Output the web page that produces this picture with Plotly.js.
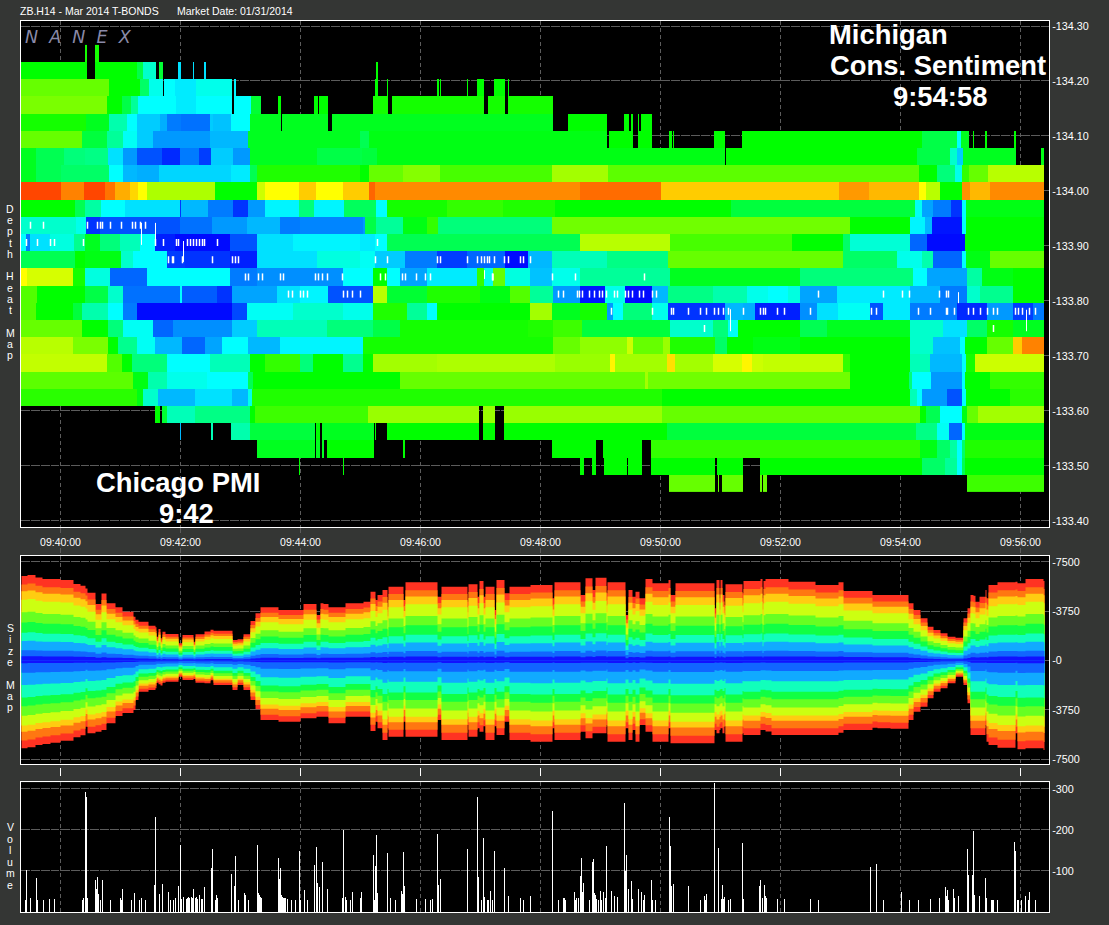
<!DOCTYPE html>
<html><head><meta charset="utf-8">
<script src="https://cdn.plot.ly/plotly-3.0.1.min.js"></script>
<style>html,body{margin:0;padding:0;background:#343634;overflow:hidden}</style>
</head><body><div id="chart" style="width:1109px;height:925px"></div>
<script>
const n = null;
// Time is seconds after 09:40:00. Each heat row is a list of [run end second, level 0-100].
const firstSecond = -39, lastSecond = 984;
const rowP8 = [[25,n],[27,52],[35,n],[39,52],[984,n]];
const rowP7 = [[27,50],[35,n],[77,50],[83,43],[96,30],[99,n],[103,45],[118,n],[121,22],[133,n],[134,22],[144,n],[146,22],[316,n],[318,50],[984,n]];
const rowP6 = [[49,60],[80,50],[89,40],[103,27],[104,n],[115,25],[136,23],[172,27],[174,n],[176,24],[315,n],[318,50],[327,n],[328,50],[377,n],[379,50],[380,n],[381,50],[407,n],[408,50],[417,n],[424,50],[434,n],[445,50],[448,n],[449,50],[984,n]];
const rowP5 = [[47,62],[62,50],[71,43],[78,35],[116,25],[136,23],[172,25],[174,n],[191,25],[201,45],[218,n],[221,50],[254,n],[258,50],[259,n],[268,50],[313,n],[328,52],[332,n],[424,52],[428,n],[445,52],[448,n],[493,52],[984,n]];
const rowP4 = [[26,52],[49,47],[67,33],[77,25],[100,20],[107,17],[121,12],[150,11],[153,20],[171,19],[190,25],[221,47],[222,n],[268,47],[272,n],[493,47],[508,n],[547,50],[564,n],[569,50],[571,n],[573,50],[578,n],[579,50],[581,n],[592,50],[984,n]];
const rowP3 = [[22,60],[47,44],[63,35],[77,26],[93,20],[150,15],[188,18],[300,47],[309,42],[547,48],[549,n],[573,50],[578,n],[592,50],[609,n],[612,50],[613,n],[614,50],[654,n],[665,50],[682,n],[862,50],[897,43],[901,25],[909,47],[913,n],[914,50],[925,n],[927,50],[954,n],[956,50],[984,n]];
const rowP2 = [[-24,47],[4,42],[25,38],[48,37],[63,22],[77,15],[102,8],[120,4],[139,12],[151,6],[173,20],[190,15],[257,47],[302,43],[317,44],[665,48],[666,n],[857,50],[890,43],[897,30],[903,20],[956,47],[981,n],[984,48]];
const rowP1 = [[-24,47],[1,42],[49,40],[63,25],[77,18],[99,17],[171,21],[190,23],[197,42],[300,53],[309,50],[343,60],[380,63],[492,57],[548,66],[859,59],[877,50],[895,38],[902,27],[909,55],[928,60],[984,68]];
const row0 = [[1,96],[24,88],[45,96],[55,90],[70,83],[78,79],[87,75],[155,67],[197,50],[205,70],[239,75],[256,80],[283,75],[309,80],[315,92],[520,87],[601,91],[779,80],[809,85],[859,82],[866,75],[880,68],[902,50],[910,86],[930,82],[984,87]];
const rowM1 = [[15,50],[25,42],[41,34],[65,25],[120,22],[121,5],[148,18],[173,12],[188,5],[205,15],[239,24],[254,38],[284,24],[316,41],[327,25],[387,52],[443,55],[495,53],[671,50],[855,44],[862,26],[873,16],[891,12],[902,5],[906,25],[984,48]];
const rowM2 = [[16,30],[26,27],[40,5],[120,8],[152,11],[187,15],[220,18],[240,12],[303,13],[305,15],[316,43],[343,35],[367,48],[378,55],[492,38],[790,61],[850,50],[865,24],[872,18],[902,2],[906,25],[984,50]];
const rowM3 = [[-34,25],[-30,12],[-10,22],[14,28],[25,36],[40,47],[60,38],[80,32],[95,25],[115,3],[170,1],[197,8],[233,22],[300,24],[315,23],[327,25],[520,42],[610,68],[732,57],[783,50],[790,40],[850,29],[867,10],[905,1],[984,50]];
const rowM4 = [[15,42],[25,50],[61,48],[73,30],[107,25],[125,6],[170,5],[197,3],[257,22],[300,28],[315,26],[345,20],[377,12],[407,6],[445,10],[468,1],[492,18],[547,32],[608,37],[783,60],[837,40],[862,27],[873,33],[902,10],[906,25],[930,48],[984,60]];
const rowM5 = [[-33,75],[13,71],[25,52],[50,28],[87,10],[170,25],[197,12],[283,14],[313,25],[327,50],[340,25],[367,16],[417,23],[424,55],[433,27],[445,60],[470,28],[492,19],[520,27],[610,35],[740,47],[853,38],[867,25],[907,16],[922,34],[953,48],[984,50]];
const rowM6 = [[-23,58],[25,50],[48,43],[63,30],[120,11],[122,25],[157,9],[172,5],[217,16],[240,22],[268,24],[313,8],[327,68],[367,45],[420,53],[450,48],[470,58],[493,35],[520,15],[545,2],[565,27],[592,1],[608,18],[653,37],[687,33],[708,27],[728,25],[740,28],[777,16],[850,23],[880,18],[907,12],[920,30],[953,36],[984,50]];
const rowM7 = [[-24,58],[13,50],[22,44],[48,33],[63,25],[77,12],[172,1],[187,7],[233,26],[283,30],[313,27],[347,53],[367,35],[377,25],[470,50],[492,66],[520,47],[547,52],[553,15],[563,25],[592,38],[608,27],[665,5],[683,18],[695,17],[740,3],[757,14],[778,22],[810,26],[823,8],[850,23],[897,12],[927,4],[953,15],[973,6],[984,12]];
const rowM8 = [[22,60],[48,50],[63,38],[93,26],[113,10],[172,14],[197,20],[267,32],[313,38],[340,43],[468,52],[493,53],[522,56],[610,44],[653,30],[668,38],[678,26],[740,50],[767,42],[850,47],[883,30],[907,22],[927,40],[953,52],[984,47]];
const rowM9 = [[13,68],[48,62],[58,50],[77,36],[95,26],[122,18],[145,10],[162,16],[188,25],[220,18],[303,24],[493,52],[520,60],[567,64],[573,70],[603,60],[610,65],[655,53],[667,40],[693,50],[740,48],[850,50],[873,30],[900,19],[905,25],[927,50],[953,60],[962,80],[984,88]];
const rowM10 = [[47,69],[62,58],[72,50],[107,38],[150,25],[190,32],[205,50],[240,55],[253,38],[283,50],[303,36],[313,50],[377,66],[495,67],[550,65],[555,76],[607,66],[615,78],[653,66],[682,71],[692,76],[703,70],[783,69],[790,55],[850,50],[870,32],[902,18],[906,25],[915,52],[984,70]];
const rowM11 = [[73,59],[88,48],[107,33],[147,27],[188,25],[193,42],[340,50],[585,60],[588,66],[790,61],[849,50],[852,38],[871,25],[902,15],[905,25],[930,50],[984,55]];
const rowM12 = [[77,54],[83,48],[98,30],[135,18],[172,22],[188,18],[192,27],[602,53],[850,50],[857,32],[862,25],[887,15],[902,8],[906,25],[950,50],[984,54]];
const rowM13 = [[95,n],[100,50],[102,n],[107,45],[135,32],[190,37],[195,50],[308,56],[419,65],[423,n],[435,65],[444,n],[602,65],[860,60],[866,50],[880,42],[902,25],[907,48],[918,60],[984,66]];
const rowM14 = [[120,n],[121,18],[151,n],[153,32],[171,n],[190,33],[255,44],[256,n],[260,50],[262,n],[314,47],[315,n],[316,50],[327,n],[419,50],[423,n],[435,50],[444,n],[607,50],[856,44],[877,37],[889,26],[902,10],[905,25],[984,48]];
const rowM15 = [[197,n],[255,47],[256,n],[260,47],[262,n],[264,47],[267,n],[314,50],[343,n],[345,50],[492,n],[536,50],[543,n],[582,50],[591,n],[860,55],[877,48],[890,40],[897,34],[902,25],[905,40],[984,53]];
const rowM16 = [[239,n],[240,50],[283,n],[284,50],[520,n],[524,50],[532,n],[536,50],[544,n],[567,50],[568,n],[582,50],[591,n],[655,50],[657,n],[683,50],[700,n],[862,50],[885,40],[897,35],[902,25],[905,42],[984,50]];
const rowM17 = [[609,n],[655,60],[658,n],[659,60],[662,n],[683,60],[700,n],[702,60],[703,n],[707,60],[907,n],[984,56]];

const heatRows = [rowM17,rowM16,rowM15,rowM14,rowM13,rowM12,rowM11,rowM10,rowM9,rowM8,rowM7,rowM6,rowM5,rowM4,rowM3,rowM2,rowM1,row0,rowP1,rowP2,rowP3,rowP4,rowP5,rowP6,rowP7,rowP8];
const priceRows = [133.46875,133.5,133.53125,133.5625,133.59375,133.625,133.65625,133.6875,133.71875,133.75,133.78125,133.8125,133.84375,133.875,133.90625,133.9375,133.96875,134,134.03125,134.0625,134.09375,134.125,134.15625,134.1875,134.21875,134.25];

// White resting-order ticks per price row (seconds)
const whiteAt13393 = [-30,-17,27,37,40,42,50,61,72,75,80,85];
const whiteAt13391 = [-34,-23,-10,-6,23,95,103,116,118,127,130,133,136,139,142,144,157,317];
const whiteAt13387 = [108,112,113,122,152,172,175,178,315,327,377,380,407,417,421,424,427,429,434,444,448,460,463,470];
const whiteAt13384 = [185,188,198,202,220,223,255,258,262,267,282,320,325,342,345,356,365,370,432,432.5,492,515,584];
const whiteAt13381 = [228,232,240,243,247,283,287,292,300,498,503,517,519,522,529,534,539,542,546,554,557,565,568,572,579,583,592,596,758,823,842,849,879,886,888];
const whiteAt13378 = [551,592,611,613,628,640,646,654,658,663,668,683,700,703,705,717,724,750,811,816,858,870,886,887,894,908,913,920,927,933,937,955,958,962,969,975];
const whiteAt13375 = [644,933];
// Tall thin white wicks: second, low price, high price
const wickT = [81,81,n,95,95,n,123,123,n,424,424,n,670,670,n,898,898,n,966,966];
const wickP = [133.902,133.942,n,133.907,133.942,n,133.871,133.909,n,133.84,133.856,n,133.745,133.785,n,133.796,133.816,n,133.745,133.784];

// Size map: envelope per step
const sizeT = [-39,-33,-25,-18,-10,0,13,20,25,27,35,41,46,55,62,73,75,78,88,95,96,98,100,102,105,118,122,133,135,144,150,153,172,177,183,190,195,200,218,240,243,256,260,263,268,285,303,310,315,317,322,327,328,343,345,377,381,407,408,417,419,423,425,434,436,444,449,470,492,494,520,525,532,535,546,547,565,568,572,575,579,585,592,608,610,615,654,656,659,660,662,664,665,682,683,700,702,703,705,711,728,755,778,783,812,817,830,848,853,860,867,873,880,887,895,903,907,910,913,915,919,925,926,928,937,955,957,965,983,984];
const sizeTop = [6430,6506,6328,6200,6200,6125,5820,5694,5490,5161,4300,5110,4350,4045,3715,3335,3100,2950,2650,2523,1800,2400,1700,2193,2016,1305,1940,1432,2000,2200,2350,2269,1559,1610,2000,3000,3588,4045,3842,3842,4300,3461,4350,4300,4045,4350,4477,5238,4604,4985,5365,4097,5619,4604,5949,4858,5619,4477,5797,4858,6050,4858,5619,3843,6126,5112,5619,5746,4731,5949,4985,6253,5365,6304,5112,5949,3462,5365,4858,5238,4731,6202,5873,6126,4985,5873,3970,6126,4731,6126,4985,4224,5797,5112,6050,6202,4731,6050,6202,6202,6000,5746,5949,5300,4985,4985,4985,4350,3843,3209,2575,2321,2067,1813,1737,3209,3970,4985,4934,4477,4858,5365,4731,5746,5949,6000,5873,6202,6050,6050];
const sizeBottom = [-6687,-6600,-6433,-6350,-6255,-6103,-5849,-5700,-5038,-5545,-5418,-5291,-4784,-4226,-4000,-3769,-3008,-2374,-2250,-2120,-1700,-1800,-1900,-1700,-1613,-1232,-1486,-1400,-1689,-1740,-1500,-1866,-2247,-1866,-2247,-3008,-3718,-4530,-4657,-4404,-4404,-4277,-4277,-4277,-4784,-4277,-4275,-5366,-4656,-5163,-6051,-5163,-5798,-4656,-5798,-4529,-6051,-4910,-5798,-5163,-5417,-5000,-6051,-5000,-5671,-4656,-6051,-6178,-5163,-6051,-5417,-5925,-5544,-5544,-4910,-6178,-5163,-6051,-5290,-6178,-4910,-5417,-6178,-5163,-6305,-6305,-5290,-5544,-5300,-5163,-5544,-5000,-6178,-5544,-5671,-5290,-5290,-5290,-5400,-5671,-5671,-5671,-5500,-5290,-5113,-5163,-5200,-4529,-3895,-3514,-2880,-2373,-2119,-1738,-1231,-1865,-3261,-5671,-5671,-5671,-5671,-4910,-6178,-6432,-6635,-5544,-6762,-6686,-6812,-6812];
const bandColors = ['#ff3322','#ff7711','#ffcc11','#ccff11','#66ff22','#11ff44','#11ffbb','#11aaff','#1166ff','#1111ff'];
const bandTopShare = [1,0.90,0.82,0.72,0.57,0.45,0.33,0.23,0.12,0.05];
const bandBottomShare = [1,0.91,0.81,0.74,0.63,0.52,0.42,0.28,0.14,0.03];

// Volume
const volumeT = [-35,-34,-30,-24,-23,-17,-11,-6,22,23,25,26,27,35,36,37,38,40,42,50,60,61,62,71,74,79,81,85,94,95,99,102,108,110,113,115,118,120,121,123,126,127,128,129,131,132,133,135,136,137,139,141,142,144,151,152,155,156,157,171,174,175,178,184,185,188,197,198,199,200,201,218,219,220,221,222,223,224,225,227,231,235,239,240,244,247,254,256,257,259,262,267,282,283,285,286,290,292,300,301,313,314,315,316,317,327,330,335,341,342,343,344,356,365,370,372,377,378,380,407,417,418,421,423,424,427,428,430,432,434,444,448,460,463,470,492,498,503,504,505,514,515,516,518,520,521,522,523,529,532,533,534,535,536,538,540,541,543,545,546,551,554,557,564,565,566,568,571,572,578,581,583,584,591,592,595,609,610,611,613,628,640,644,645,646,654,658,661,662,663,664,668,670,682,683,699,700,702,704,705,706,717,724,750,758,810,816,823,841,849,858,870,879,885,886,887,888,893,894,898,907,908,912,913,914,919,925,926,931,932,933,937,954,955,957,958,961,965,968,969,975];
const volumeV = [29,102,34,83,29,29,31,31,29,34,292,280,34,78,56,85,44,29,78,29,34,29,56,29,46,29,34,29,66,231,44,68,49,29,29,34,63,163,32,36,32,34,36,34,36,34,56,34,36,32,41,32,32,61,107,153,29,41,34,92,63,136,29,46,41,29,163,46,41,36,34,131,80,107,41,36,34,34,34,32,29,29,148,29,53,29,114,158,70,61,122,56,34,199,36,29,29,49,34,49,139,29,112,187,46,143,34,29,51,44,146,63,32,32,29,32,190,66,80,153,280,85,29,180,36,29,29,51,29,148,107,39,34,29,39,245,29,34,34,29,49,29,34,34,87,131,49,70,29,122,129,46,41,32,29,51,29,49,34,160,51,39,36,265,100,139,56,75,32,56,49,29,41,78,29,29,231,160,63,68,63,29,39,29,44,315,155,32,66,32,36,29,32,168,32,63,78,34,66,39,34,32,32,32,29,110,118,29,48,29,29,31,34,60,38,53,29,55,34,38,154,89,89,197,41,38,84,34,29,29,29,29,170,149,29,29,29,38,29,48,29];

// Axis labels
const timeTicks = [0,120,240,360,480,600,720,840,960];
const timeLabels = ['09:40:00','09:42:00','09:44:00','09:46:00','09:48:00','09:50:00','09:52:00','09:54:00','09:56:00'];
const priceTicks = [134.3,134.2,134.1,134,133.9,133.8,133.7,133.6,133.5,133.4];
const priceLabels = ['-134.30','-134.20','-134.10','-134.00','-133.90','-133.80','-133.70','-133.60','-133.50','-133.40'];
const sizeTicks = [7500,3750,0,-3750,-7500];
const sizeLabels = ['-7500','-3750','-0','-3750','-7500'];
const volumeTicks = [300,200,100];
const volumeLabels = ['-300','-200','-100'];
const sideLabels = ['Depth Heat Map','Size Map','Volume'];

// ---- build ----
const W = 1109, H = 925;
const fx = p => p / W, fy = p => 1 - p / H;
const FONT = '"Liberation Sans", Arial, sans-serif';
const seconds = []; for (let s = firstSecond; s < lastSecond; s++) seconds.push(s);
const expand = runs => { let r = 0; return seconds.map(s => { while (r < runs.length - 1 && s >= runs[r][0]) r++; return runs[r][1]; }); };

const traces = [{
  type:'heatmap', x:seconds, y:priceRows, z:heatRows.map(expand), zmin:0, zmax:100, zsmooth:false, showscale:false, hoverinfo:'skip',
  colorscale:[[0,'#0000ff'],[0.125,'#0080ff'],[0.25,'#00ffff'],[0.5,'#00ff00'],[0.75,'#ffff00'],[0.85,'#ff9900'],[1,'#ff2800']],
  xaxis:'x', yaxis:'y'
}];
const whites = [[133.9375,whiteAt13393],[133.90625,whiteAt13391],[133.875,whiteAt13387],[133.84375,whiteAt13384],[133.8125,whiteAt13381],[133.78125,whiteAt13378],[133.75,whiteAt13375]];
traces.push({type:'scatter',mode:'markers',xaxis:'x',yaxis:'y',hoverinfo:'skip',
  x:whites.flatMap(w=>w[1]), y:whites.flatMap(w=>w[1].map(()=>w[0])),
  marker:{symbol:'line-ns',size:5,color:'#fff',line:{color:'#fff',width:1.5}}});
traces.push({type:'scatter',mode:'lines',xaxis:'x',yaxis:'y',hoverinfo:'skip',x:wickT,y:wickP,line:{color:'#fff',width:1}});
bandColors.forEach((c,i)=>{
  traces.push({type:'scatter',mode:'lines',xaxis:'x2',yaxis:'y2',hoverinfo:'skip',x:sizeT,y:sizeTop.map(v=>v*bandTopShare[i]),fill:'tozeroy',fillcolor:c,line:{width:0,shape:'hv',color:c}});
  traces.push({type:'scatter',mode:'lines',xaxis:'x2',yaxis:'y2',hoverinfo:'skip',x:sizeT,y:sizeBottom.map(v=>v*bandBottomShare[i]),fill:'tozeroy',fillcolor:c,line:{width:0,shape:'hv',color:c}});
});
traces.push({type:'bar',x:volumeT,y:volumeV,width:1,xaxis:'x3',yaxis:'y3',hoverinfo:'skip',marker:{color:'#fff',line:{width:0}}});

const GRID = '#5c5c5c';
const xBase = {range:[-40,988.5],domain:[fx(20.5),fx(1049)],tickvals:timeTicks,ticktext:timeLabels,showline:true,mirror:true,linecolor:'#fff',linewidth:1,
  showgrid:true,gridcolor:GRID,griddash:'4px,3px',gridwidth:1,zeroline:false,fixedrange:true};
const yBase = {side:'right',showline:true,mirror:true,linecolor:'#fff',linewidth:1,showgrid:true,gridcolor:GRID,griddash:'9px,1px',gridwidth:1,zeroline:false,fixedrange:true,ticks:'',
  tickfont:{family:FONT,size:10.8,color:'#fff'}};
// Stacked letters beside each panel: first letter centre and line step in pixels
const stackedLetters = (label, firstPx, stepPx) => Array.from(label).map((ch,i)=> ch === ' ' ? null : ({
  xref:'paper',yref:'paper',x:fx(10),y:fy(firstPx + i*stepPx),xanchor:'center',yanchor:'middle',showarrow:false,text:ch,
  font:{family:FONT,size:10.5,color:'#fff'}})).filter(Boolean);
const layout = {
  width:W,height:H,margin:{l:0,r:0,t:0,b:0},autosize:false,showlegend:false,barmode:'overlay',bargap:0,
  paper_bgcolor:'#343634',plot_bgcolor:'#000',font:{family:FONT,color:'#fff'},
  title:{text:'ZB.H14 - Mar 2014 T-BONDS',x:fx(20),xanchor:'left',y:fy(11.5),yanchor:'middle',font:{family:FONT,size:10.5,color:'#fff'}},
  xaxis:Object.assign({},xBase,{anchor:'y',showticklabels:true,ticks:'outside',ticklen:5,tickcolor:'rgba(0,0,0,0)',tickfont:{family:FONT,size:10.5,color:'#fff'}}),
  xaxis2:Object.assign({},xBase,{anchor:'y2',showticklabels:false,ticks:''}),
  xaxis3:Object.assign({},xBase,{anchor:'y3',showticklabels:false,ticks:''}),
  yaxis:Object.assign({},yBase,{anchor:'x',domain:[fy(527),fy(20.5)],range:[133.389,134.31],tickvals:priceTicks,ticktext:priceLabels}),
  yaxis2:Object.assign({},yBase,{anchor:'x2',domain:[fy(764.3),fy(555.7)],range:[-7903,7979],tickvals:sizeTicks,ticktext:sizeLabels}),
  yaxis3:Object.assign({},yBase,{anchor:'x3',domain:[fy(912.3),fy(782.3)],range:[-0.7,316],tickvals:volumeTicks,ticktext:volumeLabels}),
  shapes:timeTicks.flatMap(t=>[
    {type:'line',xref:'x',yref:'paper',x0:t,x1:t,y0:fy(768),y1:fy(776),line:{color:'#fff',width:1}},
    {type:'line',xref:'x',yref:'paper',x0:t,x1:t,y0:fy(528),y1:fy(533),line:{color:GRID,width:1}},
    {type:'line',xref:'x',yref:'paper',x0:t,x1:t,y0:fy(548),y1:fy(553),line:{color:GRID,width:1}}
  ]),
  annotations:[
    {text:'Market Date: 01/31/2014',px:175,py:11.5,size:10.5},
    {text:'N\u00a0\u00a0A\u00a0\u00a0N\u00a0\u00a0E\u00a0\u00a0X',px:23,py:37,size:17.5,color:'#8a8aa8',italic:true,family:'"DejaVu Sans", sans-serif'},
    {text:'Michigan',px:827,py:34.5,size:27.4,bold:true},
    {text:'Cons. Sentiment',px:828,py:65.5,size:27.4,bold:true},
    {text:'9:54:58',px:891,py:96.5,size:27.4,bold:true},
    {text:'Chicago PMI',px:94,py:482,size:27.4,bold:true},
    {text:'9:42',px:157,py:513,size:27.4,bold:true}
  ].map(a=>({xref:'paper',yref:'paper',x:fx(a.px),y:fy(a.py),xanchor:'left',yanchor:'middle',showarrow:false,
      text:(a.bold?'<b>':'')+(a.italic?'<i>':'')+a.text+(a.italic?'</i>':'')+(a.bold?'</b>':''),
      font:{family:a.family||FONT,size:a.size,color:a.color||'#fff'}})).concat(
    stackedLetters(sideLabels[0],209,11.23),stackedLetters(sideLabels[1],628,11.3),stackedLetters(sideLabels[2],827,11.6)
  )
};
Plotly.newPlot('chart',traces,layout,{displayModeBar:false,staticPlot:true});
</script></body></html>
